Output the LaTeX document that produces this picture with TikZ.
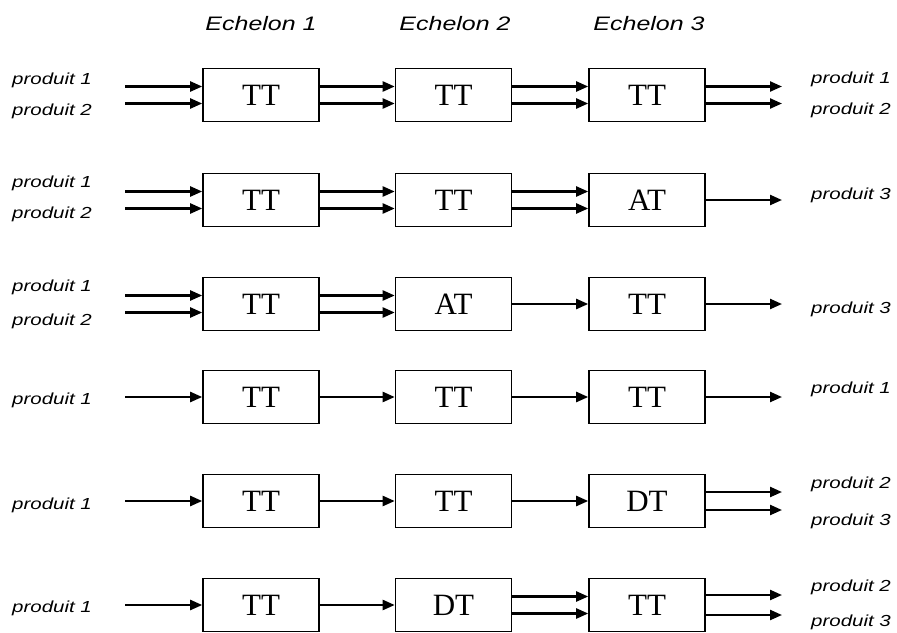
\documentclass[tikz,border=0pt]{standalone}
\usepackage{fontspec}
\setmainfont{Liberation Serif}
\newfontfamily\labelfont[FakeStretch=1.28]{Liberation Sans}
\usetikzlibrary{arrows.meta}

\begin{document}
\begin{tikzpicture}[
x=1pt,y=-1pt,
box/.style={
draw,
line width=1.6pt,
minimum width=116pt,
minimum height=53pt,
inner sep=0pt,
font=\fontsize{31}{31}\selectfont
},
lbl/.style={anchor=west,inner sep=0pt,font=\labelfont\itshape\fontsize{16}{16}\selectfont},
echelon/.style={inner sep=0pt,font=\labelfont\itshape\fontsize{19.5}{19.5}\selectfont},
flow/.style={->,line width=2.3pt},
>={Triangle[length=12pt,width=10pt]}
]
\useasboundingbox (0,0) rectangle (897,632);

\node (e1)[echelon] at (261,24){Echelon 1};
\node (e2)[echelon] at (455,24){Echelon 2};
\node (e3)[echelon] at (649,24){Echelon 3};

% row 1
\node (b11)[box] at (261,95){TT};
\node (b12)[box] at (453.5,95){TT};
\node (b13)[box] at (647,95){TT};
\coordinate (in1) at (125,95);
\coordinate (out1) at (782,95);
\node (l11)[lbl] at (12,80){produit 1};
\node (l12)[lbl] at (12,111){produit 2};
\node (r11)[lbl] at (811,79){produit 1};
\node (r12)[lbl] at (811,110){produit 2};
\draw[flow]([yshift=8.5pt]in1)--([yshift=8.5pt]b11.west);
\draw[flow]([yshift=-8.5pt]in1)--([yshift=-8.5pt]b11.west);
\draw[flow]([yshift=8.5pt]b11.east)--([yshift=8.5pt]b12.west);
\draw[flow]([yshift=-8.5pt]b11.east)--([yshift=-8.5pt]b12.west);
\draw[flow]([yshift=8.5pt]b12.east)--([yshift=8.5pt]b13.west);
\draw[flow]([yshift=-8.5pt]b12.east)--([yshift=-8.5pt]b13.west);
\draw[flow]([yshift=8.5pt]b13.east)--([yshift=8.5pt]out1);
\draw[flow]([yshift=-8.5pt]b13.east)--([yshift=-8.5pt]out1);

% row 2
\node (b21)[box] at (261,200){TT};
\node (b22)[box] at (453.5,200){TT};
\node (b23)[box] at (647,200){AT};
\coordinate (in2) at (125,200);
\coordinate (out2) at (782,200);
\node (l21)[lbl] at (12,183){produit 1};
\node (l22)[lbl] at (12,214){produit 2};
\node (r21)[lbl] at (811,195){produit 3};
\draw[flow]([yshift=8.5pt]in2)--([yshift=8.5pt]b21.west);
\draw[flow]([yshift=-8.5pt]in2)--([yshift=-8.5pt]b21.west);
\draw[flow]([yshift=8.5pt]b21.east)--([yshift=8.5pt]b22.west);
\draw[flow]([yshift=-8.5pt]b21.east)--([yshift=-8.5pt]b22.west);
\draw[flow]([yshift=8.5pt]b22.east)--([yshift=8.5pt]b23.west);
\draw[flow]([yshift=-8.5pt]b22.east)--([yshift=-8.5pt]b23.west);
\draw[flow](b23.east)--(out2);

% row 3
\node (b31)[box] at (261,304){TT};
\node (b32)[box] at (453.5,304){AT};
\node (b33)[box] at (647,304){TT};
\coordinate (in3) at (125,304);
\coordinate (out3) at (782,304);
\node (l31)[lbl] at (12,287){produit 1};
\node (l32)[lbl] at (12,321){produit 2};
\node (r31)[lbl] at (811,309){produit 3};
\draw[flow]([yshift=8.5pt]in3)--([yshift=8.5pt]b31.west);
\draw[flow]([yshift=-8.5pt]in3)--([yshift=-8.5pt]b31.west);
\draw[flow]([yshift=8.5pt]b31.east)--([yshift=8.5pt]b32.west);
\draw[flow]([yshift=-8.5pt]b31.east)--([yshift=-8.5pt]b32.west);
\draw[flow](b32.east)--(b33.west);
\draw[flow](b33.east)--(out3);

% row 4
\node (b41)[box] at (261,397){TT};
\node (b42)[box] at (453.5,397){TT};
\node (b43)[box] at (647,397){TT};
\coordinate (in4) at (125,397);
\coordinate (out4) at (782,397);
\node (l41)[lbl] at (12,400){produit 1};
\node (r41)[lbl] at (811,389){produit 1};
\draw[flow](in4)--(b41.west);
\draw[flow](b41.east)--(b42.west);
\draw[flow](b42.east)--(b43.west);
\draw[flow](b43.east)--(out4);

% row 5
\node (b51)[box] at (261,501){TT};
\node (b52)[box] at (453.5,501){TT};
\node (b53)[box] at (647,501){DT};
\coordinate (in5) at (125,501);
\coordinate (out5) at (782,501);
\node (l51)[lbl] at (12,505){produit 1};
\node (r51)[lbl] at (811,484){produit 2};
\node (r52)[lbl] at (811,521){produit 3};
\draw[flow](in5)--(b51.west);
\draw[flow](b51.east)--(b52.west);
\draw[flow](b52.east)--(b53.west);
\draw[flow]([yshift=9pt]b53.east)--([yshift=9pt]out5);
\draw[flow]([yshift=-9pt]b53.east)--([yshift=-9pt]out5);

% row 6
\node (b61)[box] at (261,605){TT};
\node (b62)[box] at (453.5,605){DT};
\node (b63)[box] at (647,605){TT};
\coordinate (in6) at (125,605);
\coordinate (out6) at (782,605);
\node (l61)[lbl] at (12,608){produit 1};
\node (r61)[lbl] at (811,587){produit 2};
\node (r62)[lbl] at (811,622){produit 3};
\draw[flow](in6)--(b61.west);
\draw[flow](b61.east)--(b62.west);
\draw[flow]([yshift=8.5pt]b62.east)--([yshift=8.5pt]b63.west);
\draw[flow]([yshift=-8.5pt]b62.east)--([yshift=-8.5pt]b63.west);
\draw[flow]([yshift=10pt]b63.east)--([yshift=10pt]out6);
\draw[flow]([yshift=-10pt]b63.east)--([yshift=-10pt]out6);

\end{tikzpicture}
\end{document}
